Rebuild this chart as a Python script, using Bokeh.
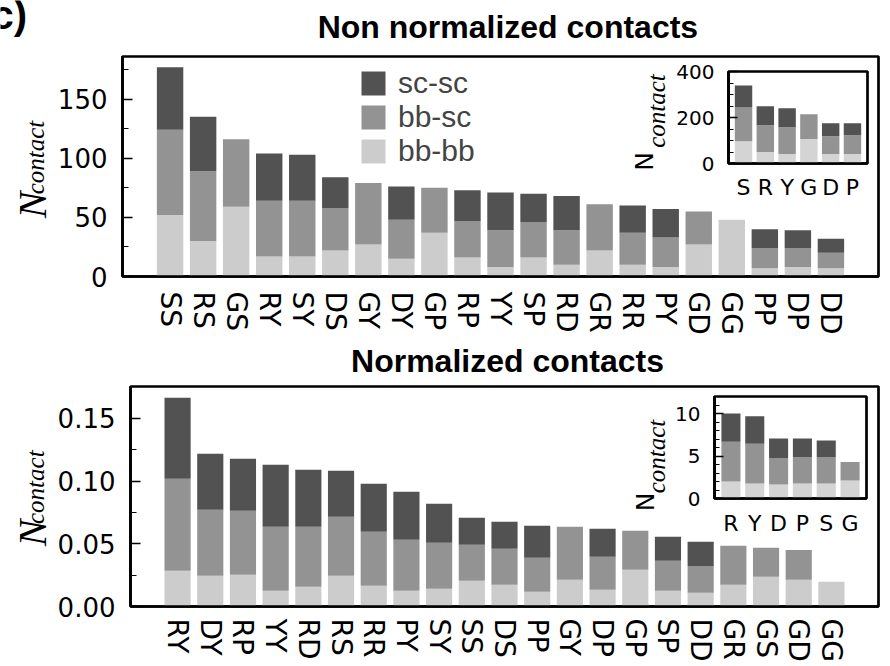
import numpy as np
from bokeh.plotting import figure
from bokeh.models import (ColumnDataSource, FixedTicker, Range1d, Legend,
                          LegendItem, NumeralTickFormatter)
from bokeh.core.properties import value
from bokeh.embed import file_html
from bokeh.resources import INLINE

# ---------------- data ----------------
top_pairs = ["SS", "RS", "GS", "RY", "SY", "DS", "GY", "DY", "GP", "RP", "YY",
             "SP", "RD", "GR", "RR", "PY", "GD", "GG", "PP", "DP", "DD"]
top_bbbb = [52, 30, 59, 17, 17, 22, 27, 15, 37, 16, 8, 16, 10, 22, 10, 8, 27, 48, 7, 8, 7]
top_bbsc = [72, 59, 57, 47, 47, 36, 52, 33, 38, 31, 31, 30, 29, 39, 27, 25, 28, 0, 17, 16, 13]
top_scsc = [53, 46, 0, 40, 39, 26, 0, 28, 0, 26, 32, 24, 29, 0, 23, 24, 0, 0, 16, 15, 12]

top_in_res = ["S", "R", "Y", "G", "D", "P"]
top_in_bbbb = [97, 50, 41, 106, 41, 41]
top_in_bbsc = [147, 116, 117, 108, 78, 82]
top_in_scsc = [95, 83, 82, 0, 56, 52]

bot_pairs = ["RY", "DY", "RP", "YY", "RD", "RS", "RR", "PY", "SY", "SS", "DS",
             "PP", "GY", "DP", "GP", "SP", "DD", "GR", "GS", "GD", "GG"]
bot_bbbb = [0.0285, 0.0245, 0.0253, 0.0125, 0.0157, 0.0245, 0.0165, 0.0125, 0.0141, 0.0205, 0.0173,
            0.0117, 0.0213, 0.0133, 0.0293, 0.0125, 0.0109, 0.0173, 0.0237, 0.0213, 0.0197]
bot_bbsc = [0.0734, 0.0527, 0.0511, 0.0511, 0.0479, 0.0471, 0.0431, 0.0407, 0.0367, 0.0287, 0.0287,
            0.0271, 0.0423, 0.0263, 0.0311, 0.0239, 0.0215, 0.0311, 0.0231, 0.0237, 0.0]
bot_scsc = [0.0647, 0.0447, 0.0415, 0.0495, 0.0455, 0.0367, 0.0383, 0.0383, 0.0311, 0.0216, 0.0216,
            0.0256, 0.0, 0.0224, 0.0, 0.0192, 0.0192, 0.0, 0.0, 0.0, 0.0]

bot_in_res = ["R", "Y", "D", "P", "S", "G"]
bot_in_bbbb = [2.0, 1.76, 1.64, 1.76, 1.76, 2.13]
bot_in_bbsc = [4.69, 4.69, 3.13, 3.13, 3.13, 2.16]
bot_in_scsc = [3.31, 3.24, 2.28, 2.16, 1.92, 0.0]

legend_labels = ["sc-sc", "bb-sc", "bb-bb"]

top_yticks = [0, 50, 100, 150]
top_yminor = [25, 75, 125, 175]
top_in_yticks = [0, 200, 400]
top_in_yminor = [50, 100, 150, 250, 300, 350]
bot_yticks = [0.0, 0.05, 0.10, 0.15]
bot_yminor = [0.025, 0.075, 0.125]
bot_in_yticks = [0, 5, 10]
bot_in_yminor = [1, 2, 3, 4, 6, 7, 8, 9, 11]

DARK = "#525252"
MID = "#939393"
LIGHT = "#cccccc"
LIGHT_IN = "#d4d4d4"

TICK_FONT = "DejaVu Sans"
W, H = 890, 666


def fig(w, h, xr, yr, left, right, top, bottom, page_top):
    p = figure(width=w, height=h, x_range=Range1d(*xr), y_range=Range1d(*yr),
               output_backend="svg", toolbar_location=None,
               min_border_left=left, min_border_right=right,
               min_border_top=top, min_border_bottom=bottom)
    p.title.visible = False
    p.styles = {"position": "absolute", "left": "0px", "top": f"{page_top}px"}
    return p


def style(p, tick_size, xlab_size, ytick_in, yminor_in, x_standoff, y_standoff):
    p.grid.visible = False
    p.outline_line_color = "black"
    p.outline_line_width = 2.7
    for ax in (p.xaxis, p.yaxis):
        ax.axis_line_width = 2.7
        ax.axis_line_color = "black"
        ax.major_label_text_font = TICK_FONT
        ax.major_label_text_color = "black"
        ax.major_tick_out = 0
        ax.minor_tick_out = 0
    p.yaxis.major_label_text_font_size = tick_size
    p.xaxis.major_label_text_font_size = xlab_size
    p.xaxis.major_tick_in = 0
    p.xaxis.minor_tick_in = 0
    p.xaxis.major_label_standoff = x_standoff
    p.yaxis.major_tick_in = ytick_in
    p.yaxis.minor_tick_in = yminor_in
    p.yaxis.major_tick_line_width = 1.5
    p.yaxis.minor_tick_line_width = 1.2
    p.yaxis.major_tick_line_color = "black"
    p.yaxis.minor_tick_line_color = "black"
    p.yaxis.major_label_standoff = y_standoff


def bars(p, cats, bb, bs, ss, light):
    src = ColumnDataSource(dict(x=list(range(len(cats))), bbbb=bb, bbsc=bs, scsc=ss))
    rs = p.vbar_stack(["bbbb", "bbsc", "scsc"], x="x", width=0.8, source=src,
                      fill_color=[light, MID, DARK], line_color=None)
    p.xaxis.ticker = FixedTicker(ticks=list(range(len(cats))))
    p.xaxis.major_label_overrides = {i: c for i, c in enumerate(cats)}
    return rs


def inset_common(q):
    q.border_fill_alpha = 0
    q.background_fill_color = "white"


# ---------------- top main (page y 0..340) ----------------
p1 = fig(W, 340, (-1.44, 21.44), (0, 186), 122, 12, 56, 64, 0)
style(p1, "26px", "28px", 10, 6, 15, 15)
r1 = bars(p1, top_pairs, top_bbbb, top_bbsc, top_scsc, LIGHT)
p1.xaxis.major_label_orientation = "vertical"
p1.yaxis.ticker = FixedTicker(ticks=top_yticks, minor_ticks=top_yminor)
leg = Legend(items=[LegendItem(label=legend_labels[0], renderers=[r1[2]]),
                    LegendItem(label=legend_labels[1], renderers=[r1[1]]),
                    LegendItem(label=legend_labels[2], renderers=[r1[0]])],
             location=(236, 108), glyph_width=30, glyph_height=30, label_height=34,
             label_text_font="Liberation Sans", label_text_font_size="30px",
             label_standoff=10, spacing=0, padding=0, border_line_alpha=0,
             background_fill_alpha=0)
p1.add_layout(leg)

# ---------------- top inset (page y 60..202) ----------------
q1 = fig(W, 142, (-0.69, 5.69), (0, 400), 728, 23, 11, 39, 60)
style(q1, "20px", "22px", 9, 5, 11, 14)
inset_common(q1)
bars(q1, top_in_res, top_in_bbbb, top_in_bbsc, top_in_scsc, LIGHT_IN)
q1.yaxis.ticker = FixedTicker(ticks=top_in_yticks, minor_ticks=top_in_yminor)

# ---------------- bottom main (page y 340..666) ----------------
p2 = fig(W, 326, (-1.44, 21.44), (0, 0.1755), 130, 12, 46, 60, 340)
style(p2, "26px", "28px", 10, 6, 12, 15)
bars(p2, bot_pairs, bot_bbbb, bot_bbsc, bot_scsc, LIGHT)
p2.xaxis.major_label_orientation = "vertical"
p2.yaxis.ticker = FixedTicker(ticks=bot_yticks, minor_ticks=bot_yminor)
p2.yaxis.formatter = NumeralTickFormatter(format="0.00")

# ---------------- bottom inset (page y 388..538) ----------------
q2 = fig(W, 150, (-0.69, 5.69), (0, 12), 714, 24, 8, 40, 388)
style(q2, "20px", "22px", 9, 5, 12, 14)
inset_common(q2)
bars(q2, bot_in_res, bot_in_bbbb, bot_in_bbsc, bot_in_scsc, LIGHT_IN)
q2.yaxis.ticker = FixedTicker(ticks=bot_in_yticks, minor_ticks=bot_in_yminor)

# ---------------- text overlay (page pixel coordinates) ----------------
ov = figure(width=W, height=H, x_range=Range1d(0, W), y_range=Range1d(0, H),
            output_backend="svg", toolbar_location=None, x_axis_type=None, y_axis_type=None,
            min_border_left=0, min_border_right=0, min_border_top=0, min_border_bottom=0)
ov.title.visible = False
ov.grid.visible = False
ov.outline_line_color = None
ov.background_fill_alpha = 0
ov.border_fill_alpha = 0
ov.styles = {"position": "absolute", "left": "0px", "top": "0px"}

SHIFT = 12  # baseline correction observed for the svg text output


def txt(x, y, s, font, size, style_="normal", angle=0.0, align="center"):
    if angle == 0.0:
        y = y - SHIFT
    else:
        x = x - SHIFT - 1
    ov.text(x=[x], y=[H - y], text=[s], angle=angle, text_font=value(font),
            text_font_size=value(size), text_font_style=style_, text_align=align,
            text_baseline="alphabetic", text_color="black")


V = np.pi / 2
txt(507.4, 38.3, "Non normalized contacts", "Liberation Sans", "32px", "bold")
txt(507.0, 372.7, "Normalized contacts", "Liberation Sans", "32px", "bold")
txt(-9, 26, "c)", "Liberation Sans", "40px", "bold", align="left")
# main y labels
txt(45, 204.5, "N", "Liberation Serif", "40px", "italic", V)
txt(48, 157, "contact", "Liberation Serif", "25px", "italic", V)
txt(45, 532.5, "N", "Liberation Serif", "40px", "italic", V)
txt(48, 486.7, "contact", "Liberation Serif", "25px", "italic", V)
# inset y labels
txt(657, 161, "N", "DejaVu Sans", "25px", "normal", V)
txt(669, 110.5, "contact", "Liberation Serif", "25px", "italic", V)
txt(658, 501.5, "N", "DejaVu Sans", "25px", "normal", V)
txt(669, 456, "contact", "Liberation Serif", "25px", "italic", V)

open("out.html", "w").write(file_html([p1, q1, p2, q2, ov], INLINE))
